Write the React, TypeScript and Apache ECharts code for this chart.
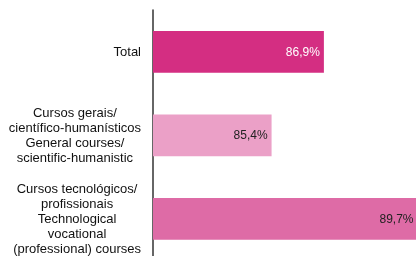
import React, { useEffect, useRef } from "react";
import * as echarts from "echarts";

const categories = [
  "Total",
  "Cursos gerais/\ncientífico-humanísticos\nGeneral courses/\nscientific-humanistic",
  "Cursos tecnológicos/\nprofissionais\nTechnological\nvocational\n(professional) courses",
];
const values = [86.9, 85.4, 89.7];
const barColors = ["#D42E82", "#EBA0C7", "#DE6BA6"];
const labelColors = ["#FFFFFF", "#222222", "#222222"];
const labelDistances = [4, 4, 8];

export default function App() {
  const ref = useRef<HTMLDivElement>(null);
  useEffect(() => {
    if (!ref.current) return;
    const chart = echarts.init(ref.current, null, { renderer: "svg" });
    chart.setOption({
      animation: false,
      grid: {
        left: 153,
        width: 279,
        top: 10,
        height: 250.5,
        containLabel: false,
        outerBoundsMode: "none",
      },
      xAxis: {
        type: "value",
        min: 82,
        max: 90,
        show: false,
      },
      yAxis: {
        type: "category",
        inverse: true,
        data: categories,
        axisLine: { show: true, lineStyle: { color: "#333333", width: 1.5 } },
        axisTick: { show: false },
        splitLine: { show: false },
        axisLabel: {
          margin: 12,
          align: "right",
          fontFamily: "Liberation Sans, Arial, sans-serif",
          fontSize: 13,
          lineHeight: 15,
          color: "#111111",
          formatter: (v: string) =>
            v.split("\n").map((l) => `{c|${l}}`).join("\n"),
          rich: {
            c: {
              align: "center",
              fontFamily: "Liberation Sans, Arial, sans-serif",
              fontSize: 13,
              lineHeight: 15,
              color: "#111111",
            },
          },
        },
      },
      series: [
        {
          type: "bar",
          barWidth: "50%",
          data: values.map((v, i) => ({
            value: v,
            itemStyle: { color: barColors[i] },
            label: { color: labelColors[i], distance: labelDistances[i] },
          })),
          label: {
            show: true,
            position: "insideRight",
            distance: 4,
            fontFamily: "Liberation Sans, Arial, sans-serif",
            fontSize: 12,
            formatter: (p: any) => p.value.toFixed(1).replace(".", ",") + "%",
          },
        },
      ],
    });
    return () => chart.dispose();
  }, []);
  return (
    <div
      ref={ref}
      style={{ position: "fixed", left: 0, top: 0, width: 416, height: 256 }}
    />
  );
}
